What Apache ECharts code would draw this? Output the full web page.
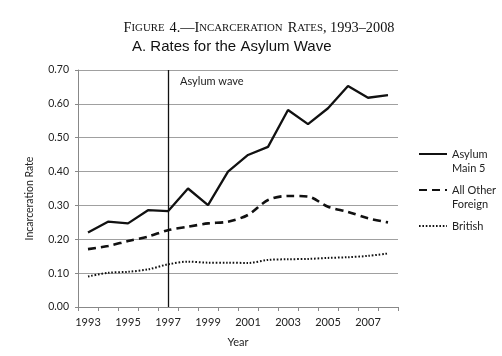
<!DOCTYPE html>
<html>
<head>
<meta charset="utf-8">
<script src="https://cdn.jsdelivr.net/npm/echarts@6/dist/echarts.min.js"></script>
<style>html,body{margin:0;padding:0;background:#fff}#c{width:502px;height:356px}</style>
</head>
<body>
<div id="c"></div>
<script>
const years = ['1993','1994','1995','1996','1997','1998','1999','2000','2001','2002','2003','2004','2005','2006','2007','2008'];
const asylumMain5 = [0.22,0.252,0.247,0.286,0.283,0.35,0.301,0.40,0.449,0.473,0.582,0.540,0.587,0.653,0.618,0.626];
const allOtherForeign = [0.171,0.180,0.195,0.208,0.227,0.237,0.247,0.252,0.272,0.316,0.328,0.326,0.296,0.281,0.262,0.250];
const british = [0.090,0.101,0.104,0.111,0.126,0.134,0.131,0.131,0.130,0.139,0.141,0.142,0.145,0.147,0.151,0.158];
const waveStart = '1997';
const seriesNames = ['Asylum Main 5','All Other Foreign','British'];
const legendLabels = {'Asylum Main 5':'\nAsylum\nMain 5','All Other Foreign':'\nAll Other\nForeign','British':'\nBritish\n'};

const chart = echarts.init(document.getElementById('c'));
const font = 'Lato, "Open Sans", sans-serif';
chart.setOption({
  animation:false,
  backgroundColor:'#fff',
  title:[{
    text:'{c|F}{s|IGURE} {c|4.—I}{s|NCARCERATION} {c|R}{s|ATES}{c|, 1993–2008}',
    left:254, top:14, textAlign:'center',
    textStyle:{fontWeight:'normal',rich:{
      c:{fontFamily:'"Liberation Serif", serif',fontSize:14.3,fontWeight:'normal',color:'#111'},
      s:{fontFamily:'"Liberation Serif", serif',fontSize:10.8,fontWeight:'normal',color:'#111'}
    }}
  },{
    text:'A. Rates for the Asylum Wave',
    left:127, top:34,
    textStyle:{fontFamily:'"Liberation Sans", Arial, sans-serif',fontSize:15,fontWeight:'normal',color:'#111'}
  }],
  grid:{left:78,right:104,top:70,bottom:49,containLabel:false},
  legend:{
    orient:'vertical', left:413, top:128, itemGap:-6,
    itemWidth:28, itemHeight:10,
    data:seriesNames,
    formatter:n=>legendLabels[n],
    itemStyle:{opacity:0},
    textStyle:{fontFamily:font,fontSize:11,lineHeight:14,color:'#222'}
  },
  graphic:[{
    type:'text', left:180, top:76,
    style:{text:'Asylum wave',fontFamily:font,fontSize:11,fill:'#222'}
  }],
  xAxis:{
    type:'category', data:years, boundaryGap:true,
    name:'Year', nameLocation:'middle', nameGap:30,
    nameTextStyle:{fontFamily:font,fontSize:11,color:'#222'},
    axisLine:{lineStyle:{color:'#888',width:1}},
    axisTick:{show:true,interval:0,length:4,lineStyle:{color:'#888'}},
    axisLabel:{interval:1,margin:10,fontFamily:font,fontSize:11,color:'#222'},
    splitLine:{show:false}
  },
  yAxis:{
    type:'value', min:0, max:0.7, interval:0.1,
    name:'Incarceration Rate', nameLocation:'middle', nameGap:43,
    nameTextStyle:{fontFamily:font,fontSize:10.5,color:'#222',padding:[0,20,0,0]},
    axisLine:{show:true,lineStyle:{color:'#888',width:1}},
    axisTick:{show:true,length:3,lineStyle:{color:'#888'}},
    axisLabel:{margin:9,fontFamily:font,fontSize:10.5,color:'#222',formatter:v=>v.toFixed(2)},
    splitLine:{lineStyle:{color:'#a0a0a0',width:1}}
  },
  series:[{
    name:seriesNames[0], type:'line', data:asylumMain5, symbol:'none',
    lineStyle:{color:'#111',width:2.3,type:'solid'}, itemStyle:{color:'#111'},
    markLine:{
      silent:true, symbol:'none', label:{show:false},
      lineStyle:{color:'#111',width:1.3,type:'solid'},
      data:[{xAxis:waveStart}]
    }
  },{
    name:seriesNames[1], type:'line', data:allOtherForeign, symbol:'none', smooth:0.3,
    lineStyle:{color:'#111',width:2.6,type:[8,5]}, itemStyle:{color:'#111'}
  },{
    name:seriesNames[2], type:'line', data:british, symbol:'none', smooth:0.3,
    lineStyle:{color:'#111',width:2,type:[1.6,1.8]}, itemStyle:{color:'#111'}
  }]
});
</script>
</body>
</html>
